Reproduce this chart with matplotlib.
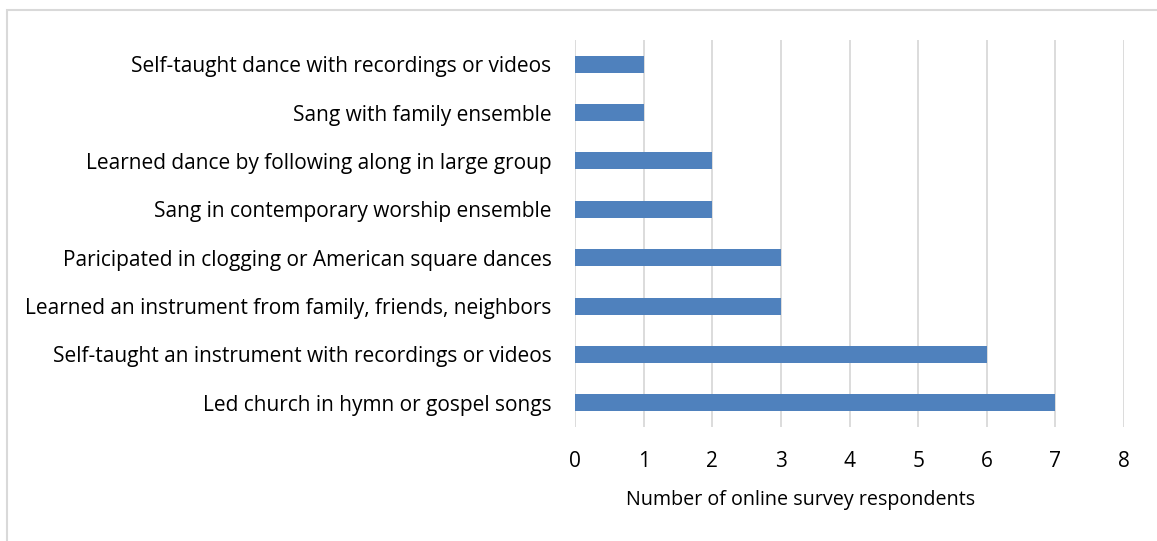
import matplotlib
matplotlib.use("Agg")
import matplotlib.pyplot as plt
from matplotlib.patches import Rectangle

# categories listed top to bottom as in the chart
activities = [
    "Self-taught dance with recordings or videos",
    "Sang with family ensemble",
    "Learned dance by following along in large group",
    "Sang in contemporary worship ensemble",
    "Paricipated in clogging or American square dances",
    "Learned an instrument from family, friends, neighbors",
    "Self-taught an instrument with recordings or videos",
    "Led church in hymn or gospel songs",
]
respondents = [1, 1, 2, 2, 3, 3, 6, 7]
x_ticks = [0, 1, 2, 3, 4, 5, 6, 7, 8]

plt.rcParams['font.family'] = ['Open Sans', 'DejaVu Sans']

W, H = 1157, 541
fig = plt.figure(figsize=(W / 100, H / 100), dpi=100)

# light frame around the chart (cropped on right and bottom)
fig.patches.append(Rectangle((7 / W, -0.1), 1.2, 1 - 10 / H + 0.1,
                             transform=fig.transFigure, fill=False,
                             edgecolor='#D9D9D9', linewidth=1.5))

left, right = 575 / W, 1124 / W
top, bottom = 1 - 40 / H, 1 - 427 / H
ax = fig.add_axes([left, bottom, right - left, top - bottom])

pos = list(range(len(activities)))
ax.barh(pos, respondents, height=0.35, color='#4F81BD', zorder=3)

ax.set_ylim(len(activities) - 0.5, -0.5)
ax.set_xlim(0, 8)
ax.set_xticks(x_ticks)
ax.set_yticks(pos)
ax.set_yticklabels(activities)

ax.grid(axis='x', color='#D9D9D9', linewidth=1.3, zorder=0)
for s in ax.spines.values():
    s.set_visible(False)
ax.tick_params(axis='both', length=0, labelsize=15, colors='black')
ax.tick_params(axis='y', pad=17)
ax.tick_params(axis='x', pad=17)

ax.set_xlabel("Number of online survey respondents", fontsize=14.2)
ax.xaxis.set_label_coords((801 / W - left) / (right - left), -0.164)

fig.savefig("out.png", dpi=100)
